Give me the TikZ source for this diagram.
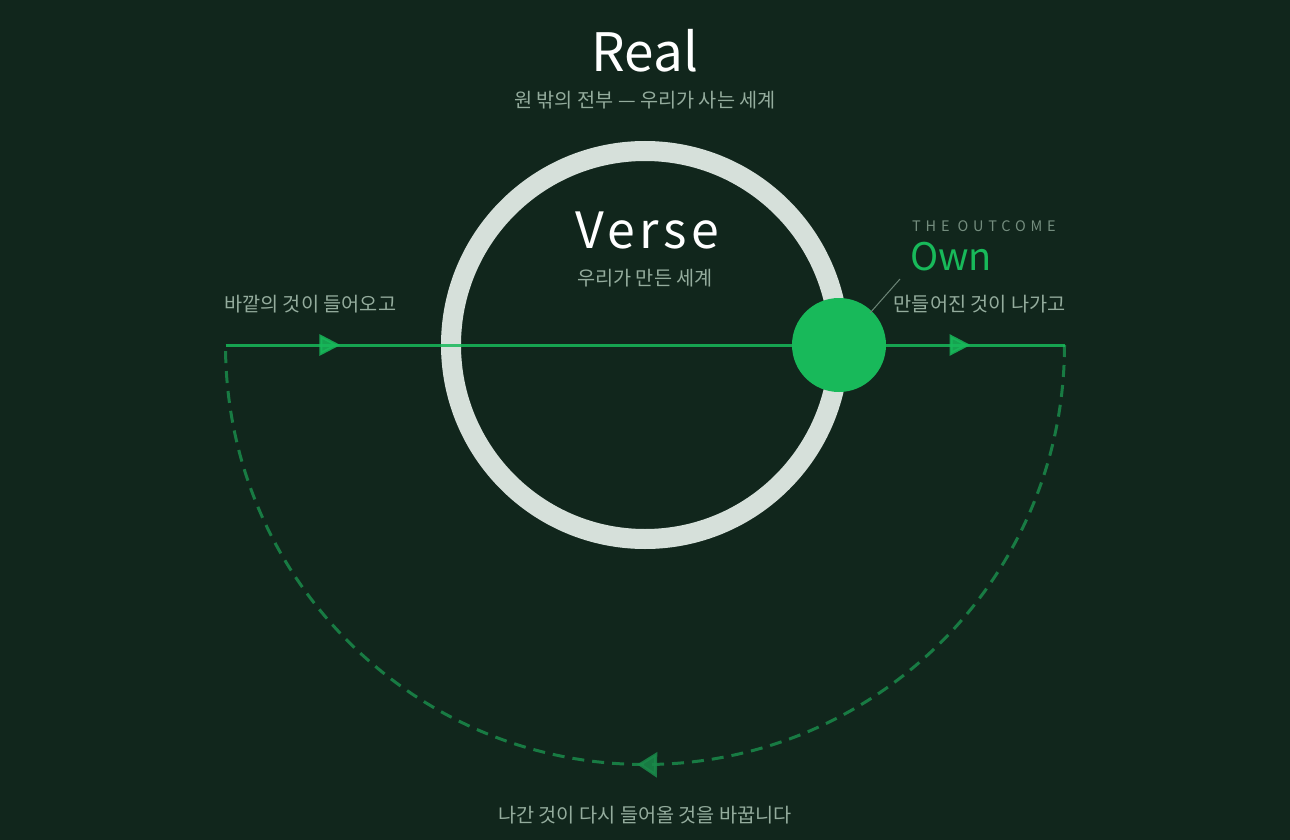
\documentclass[tikz,border=0pt]{standalone}
\usepackage{fontspec}
\setmainfont{Noto Sans CJK KR}
\usepackage{tikz}
\usetikzlibrary{calc,decorations.markings,positioning,arrows.meta}
\definecolor{bgc}{HTML}{11261C}
\definecolor{ringc}{HTML}{D6E0DA}
\definecolor{mutec}{HTML}{94AC9D}
\definecolor{ownc}{HTML}{18B95A}
\definecolor{dashc}{HTML}{1A8A4A}
\definecolor{leadc}{HTML}{6C8577}
\tikzset{
  flow/.style={draw=ownc,line width=3pt,opacity=0.85},
  loopback/.style={draw=dashc,line width=3pt,dash pattern=on 12pt off 8pt,opacity=0.85},
  mute/.style={text=mutec,inner sep=0pt},
}
\begin{document}
\begin{tikzpicture}[x=1pt,y=1pt]
    \pgfmathsetmacro{\R}{194}
    \pgfmathsetmacro{\Rl}{419.5}
    \fill[bgc] (0,0) rectangle (1290,-840);
    \useasboundingbox (0,0) rectangle (1290,-840);
    \coordinate (O) at (645,-345);
    \coordinate (inL) at ($(O)+(-\Rl,0)$);
    \coordinate (outR) at ($(O)+(\Rl,0)$);
    \coordinate (own) at ($(O)+(\R,0)$);

    % the way back
    \draw[loopback,postaction={decorate},decoration={markings,
      mark=at position 0.506 with {\arrow[solid,fill=dashc]{Triangle[length=20pt,width=25pt]}}}]
      (outR) arc[start angle=0,end angle=-180,radius=\Rl];

    \draw[ringc,line width=20pt] (O) circle[radius=\R];

    \draw[flow,postaction={decorate},decoration={markings,
      mark=at position 0.137 with {\arrow[fill=ownc]{Triangle[length=21pt,width=21pt]}},
      mark=at position 0.888 with {\arrow[fill=ownc]{Triangle[length=21pt,width=21pt]}}}]
      (inL) -- (outR);

    \fill[ownc] (own) circle[radius=47];
    \coordinate (tmp1) at ($(own)+(31,32)$);
    \coordinate (tmp2) at ($(own)+(61,66)$);
    \draw[leadc,line width=1pt] (tmp1) -- (tmp2);

    \node[anchor=base,text=white,inner sep=0pt,font=\fontsize{53}{60}\selectfont] (real) at (645,-72) {Real};
    \node[anchor=base,mute,font=\fontsize{19.7}{24}\selectfont] (realsub) at (645,-108) {원 밖의 전부 — 우리가 사는 세계};
    \node[anchor=base,text=white,inner sep=0pt,font=\fontsize{50}{58}\selectfont\addfontfeature{LetterSpace=9}] (verse) at (647,-248) {Verse};
    \node[anchor=base,mute,font=\fontsize{19.7}{24}\selectfont] (versesub) at (645,-285) {우리가 만든 세계};

    \node[anchor=base west,text=leadc!80!mutec,inner sep=0pt,font=\fontsize{14.5}{18}\selectfont\addfontfeature{LetterSpace=33}] (tag) at (912,-231) {THE OUTCOME};
    \node[anchor=base west,text=ownc,inner sep=0pt,font=\fontsize{38}{44}\selectfont] (ownlbl) at (910,-270) {Own};

    \node[anchor=base west,mute,font=\fontsize{19.7}{24}\selectfont] (inlbl) at (224,-311) {바깥의 것이 들어오고};
    \node[anchor=base east,mute,font=\fontsize{19.7}{24}\selectfont] (outlbl) at (1066,-311) {만들어진 것이 나가고};
    \node[anchor=base,mute,font=\fontsize{19.7}{24}\selectfont] (backlbl) at (645,-822) {나간 것이 다시 들어올 것을 바꿉니다};
\end{tikzpicture}
\end{document}
